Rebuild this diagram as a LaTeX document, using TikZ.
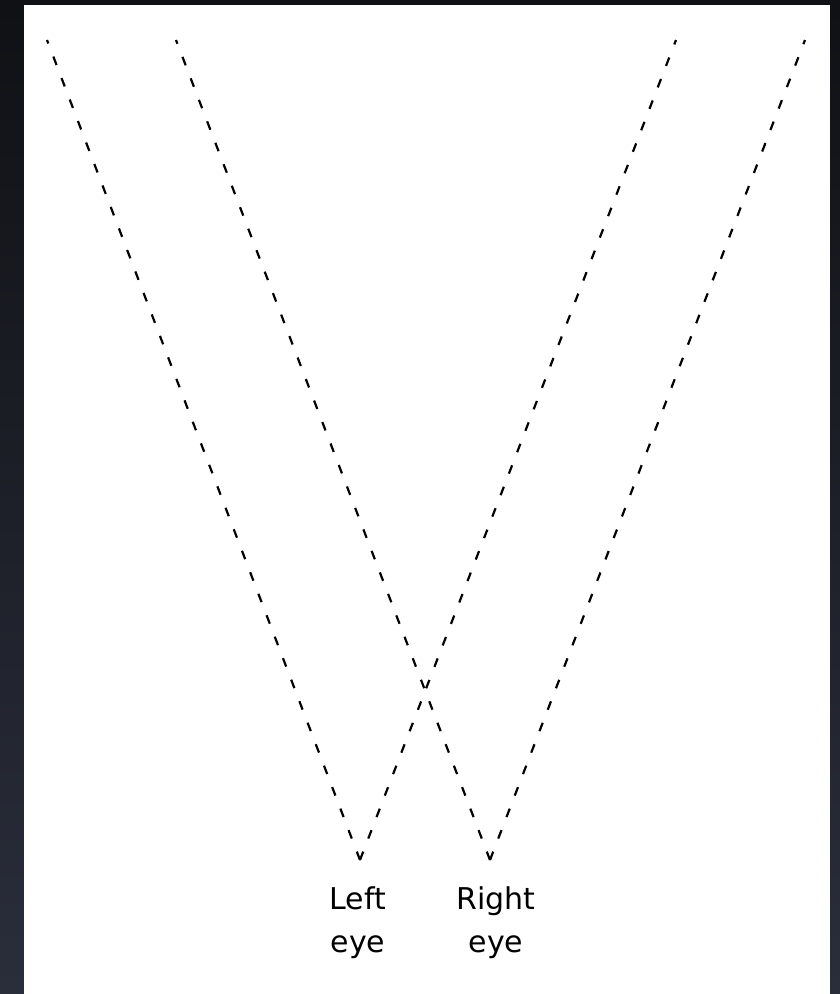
\documentclass[tikz,border=0pt]{standalone}
\usepackage{fontspec}
\setmainfont{DejaVu Sans}
\usepackage{xcolor}
\definecolor{frameTop}{HTML}{101115}
\definecolor{frameBot}{HTML}{2A2E3B}
\usepackage{tikz}

\tikzset{
  sightline/.style={black, line width=2.2pt, dash pattern=on 9pt off 14pt},
  eyelabel/.style={anchor=north, inner sep=0pt, align=center,
    font=\fontsize{30}{43}\selectfont}
}

\begin{document}
\begin{tikzpicture}[x=1pt, y=-1pt]
  % ---- frame and white panel ----
  \useasboundingbox (0,0) rectangle (840,994);
  \shade[top color=frameTop, bottom color=frameBot] (0,0) rectangle (840,994);
  \fill[white] (24,5) rectangle (830,994);
  % ---- the two eyes and where their lines of sight end ----
  \coordinate (lefteye) at (360,860);
  \coordinate (righteye) at (490,860);
  \coordinate (leftfarL) at (47,40);
  \coordinate (leftfarR) at (676,40);
  \coordinate (rightfarL) at (176,40);
  \coordinate (rightfarR) at (805,40);
  \draw[sightline] (lefteye) -- (leftfarL);
  \draw[sightline] (lefteye) -- (leftfarR);
  \draw[sightline] (righteye) -- (rightfarL);
  \draw[sightline] (righteye) -- (rightfarR);
  \node[eyelabel] (leftlabel) at (358,886) {Left\\eye};
  \node[eyelabel] (rightlabel) at (496,886) {Right\\eye};
\end{tikzpicture}
\end{document}
